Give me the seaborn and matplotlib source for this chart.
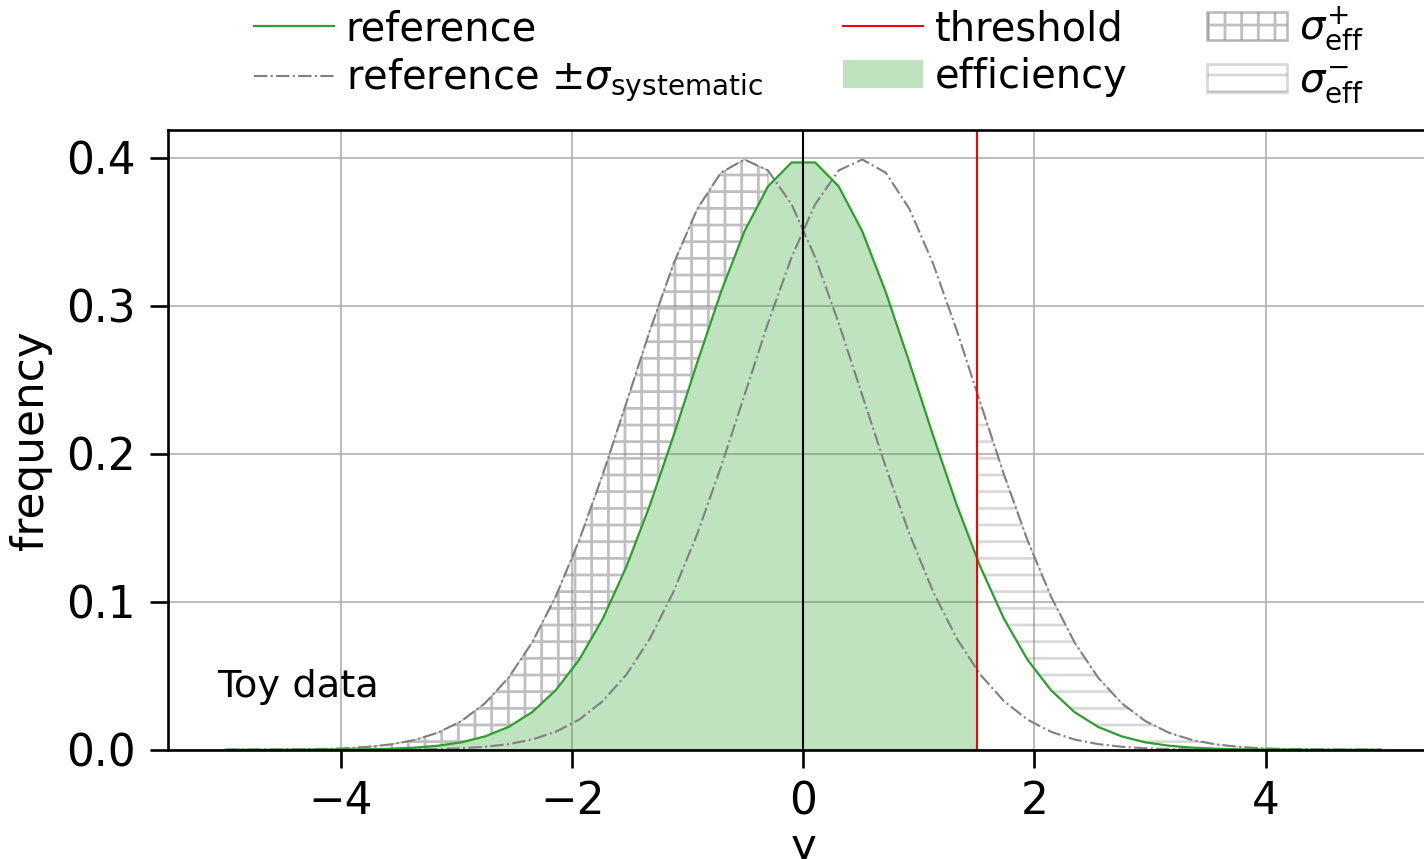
import matplotlib
matplotlib.use("Agg")
import matplotlib.pyplot as plt
import seaborn as sns
import pandas as pd
from matplotlib.lines import Line2D
from matplotlib.patches import Patch

# ---------------- data ----------------
y_grid = [-5.000, -4.796, -4.592, -4.388, -4.184, -3.980, -3.776, -3.571, -3.367, -3.163,
          -2.959, -2.755, -2.551, -2.347, -2.143, -1.939, -1.735, -1.531, -1.327, -1.122,
          -0.918, -0.714, -0.510, -0.306, -0.102, 0.102, 0.306, 0.510, 0.714, 0.918,
          1.122, 1.327, 1.531, 1.735, 1.939, 2.143, 2.347, 2.551, 2.755, 2.959,
          3.163, 3.367, 3.571, 3.776, 3.980, 4.184, 4.388, 4.592, 4.796, 5.000]

reference = [0.0000, 0.0000, 0.0000, 0.0000, 0.0001, 0.0001, 0.0003, 0.0007, 0.0014, 0.0027,
             0.0050, 0.0090, 0.0154, 0.0254, 0.0402, 0.0609, 0.0886, 0.1237, 0.1655, 0.2125,
             0.2617, 0.3091, 0.3503, 0.3807, 0.3969, 0.3969, 0.3807, 0.3503, 0.3091, 0.2617,
             0.2125, 0.1655, 0.1237, 0.0886, 0.0609, 0.0402, 0.0254, 0.0154, 0.0090, 0.0050,
             0.0027, 0.0014, 0.0007, 0.0003, 0.0001, 0.0001, 0.0000, 0.0000, 0.0000, 0.0000]

reference_minus = [0.0000, 0.0000, 0.0001, 0.0002, 0.0005, 0.0009, 0.0019, 0.0036, 0.0065, 0.0115,
                   0.0194, 0.0314, 0.0487, 0.0725, 0.1035, 0.1417, 0.1862, 0.2346, 0.2835, 0.3287,
                   0.3655, 0.3899, 0.3989, 0.3915, 0.3686, 0.3328, 0.2883, 0.2395, 0.1909, 0.1459,
                   0.1070, 0.0752, 0.0508, 0.0329, 0.0204, 0.0121, 0.0069, 0.0038, 0.0020, 0.0010,
                   0.0005, 0.0002, 0.0001, 0.0000, 0.0000, 0.0000, 0.0000, 0.0000, 0.0000, 0.0000]

reference_plus = [0.0000, 0.0000, 0.0000, 0.0000, 0.0000, 0.0000, 0.0000, 0.0001, 0.0002, 0.0005,
                  0.0010, 0.0020, 0.0038, 0.0069, 0.0121, 0.0204, 0.0329, 0.0508, 0.0752, 0.1070,
                  0.1459, 0.1909, 0.2395, 0.2883, 0.3328, 0.3686, 0.3915, 0.3989, 0.3899, 0.3655,
                  0.3287, 0.2835, 0.2346, 0.1862, 0.1417, 0.1035, 0.0725, 0.0487, 0.0314, 0.0194,
                  0.0115, 0.0065, 0.0036, 0.0019, 0.0009, 0.0005, 0.0002, 0.0001, 0.0000, 0.0000]

threshold = 1.5
reference_at_threshold = 0.1295
reference_plus_at_threshold = 0.2420

legend_labels = ["reference", r"reference $\pm\sigma_{\mathrm{systematic}}$",
                 "threshold", "efficiency",
                 r"$\sigma^{+}_{\mathrm{eff}}$", r"$\sigma^{-}_{\mathrm{eff}}$"]

# ---------------- style ----------------
FS = 15.75
FS_LEG = 14.4
FS_TXT = 13.8
plt.rcParams.update({
    "font.family": ["DejaVu Sans"],
    "mathtext.fontset": "dejavusans",
    "font.size": FS,
    "hatch.linewidth": 1.0,
    "axes.linewidth": 0.95,
    "xtick.major.size": 6.5, "ytick.major.size": 6.5,
    "xtick.major.width": 0.95, "ytick.major.width": 0.95,
    "xtick.major.pad": 4.5, "ytick.major.pad": 5,
})

fig = plt.figure(figsize=(7.12, 4.295), dpi=200)
ax = fig.add_axes([0.1178, 0.1272, 0.8927, 0.7215])

df = pd.DataFrame({"y": y_grid, "reference": reference,
                   "minus": reference_minus, "plus": reference_plus})

# efficiency fill (under reference up to threshold)
eff = df[df["y"] <= threshold]
eff_x = list(eff["y"]) + [threshold]
eff_y = list(eff["reference"]) + [reference_at_threshold]
ax.fill_between(eff_x, 0, eff_y, color="#2ca02c", alpha=0.3, linewidth=0, zorder=1)

# sigma+ hatch: between shifted(-) curve and reference, where it lies above
up = df[(df["minus"] > df["reference"]) & (df["y"] < threshold)]
ax.fill_between(up["y"], up["reference"], up["minus"], facecolor="none",
                edgecolor="gray", hatch="++", alpha=0.5, linewidth=0.5, zorder=1.5)

# sigma- hatch: between reference and shifted(+) curve beyond threshold
dn = df[df["y"] > threshold]
dn_x = [threshold] + list(dn["y"])
dn_lo = [reference_at_threshold] + list(dn["reference"])
dn_hi = [reference_plus_at_threshold] + list(dn["plus"])
ax.fill_between(dn_x, dn_lo, dn_hi, facecolor="none",
                edgecolor="gray", hatch="--", alpha=0.3, linewidth=0.5, zorder=1.5)

sns.lineplot(data=df, x="y", y="minus", ax=ax, color="gray", lw=0.75,
             linestyle="-.", estimator=None, sort=False, zorder=2)
sns.lineplot(data=df, x="y", y="plus", ax=ax, color="gray", lw=0.75,
             linestyle="-.", estimator=None, sort=False, zorder=2)
sns.lineplot(data=df, x="y", y="reference", ax=ax, color="#2ca02c", lw=0.8,
             estimator=None, sort=False, zorder=2.2)

ax.axvline(0, color="black", lw=0.75, zorder=2.3)
ax.axvline(threshold, color="red", lw=0.75, zorder=2.3)
for sp in ax.spines.values():
    sp.set_zorder(10)

ax.set_xlim(-5.5, 5.5)
ax.set_ylim(0, 1.05 * max(reference_minus))
ax.set_xticks([-4, -2, 0, 2, 4])
ax.set_yticks([0.0, 0.1, 0.2, 0.3, 0.4])
ax.grid(True, color="#b0b0b0", lw=0.6)
ax.set_axisbelow(True)
ax.set_xlabel("y", fontsize=FS, labelpad=1.0)
ax.set_ylabel("frequency", fontsize=FS, labelpad=5)

ax.text(0.0385, 0.0855, "Toy data", transform=ax.transAxes, fontsize=FS_TXT,
        ha="left", va="baseline")

handles = [
    Line2D([], [], color="#2ca02c", lw=0.8),
    Line2D([], [], color="gray", lw=0.75, linestyle="-."),
    Line2D([], [], color="red", lw=0.75),
    Patch(facecolor="#2ca02c", alpha=0.3, edgecolor="none"),
    Patch(facecolor="none", edgecolor="gray", hatch="++", alpha=0.5),
    Patch(facecolor="none", edgecolor="gray", hatch="--", alpha=0.3),
]
ax.legend(handles, legend_labels, ncol=3, loc="lower center",
          bbox_to_anchor=(0.5044, 1.04), frameon=False, fontsize=FS_LEG,
          handlelength=2.0, handletextpad=0.3, columnspacing=2.0,
          labelspacing=0.2, borderaxespad=0.0, borderpad=0.0)

fig.savefig("out.png", dpi=200)
